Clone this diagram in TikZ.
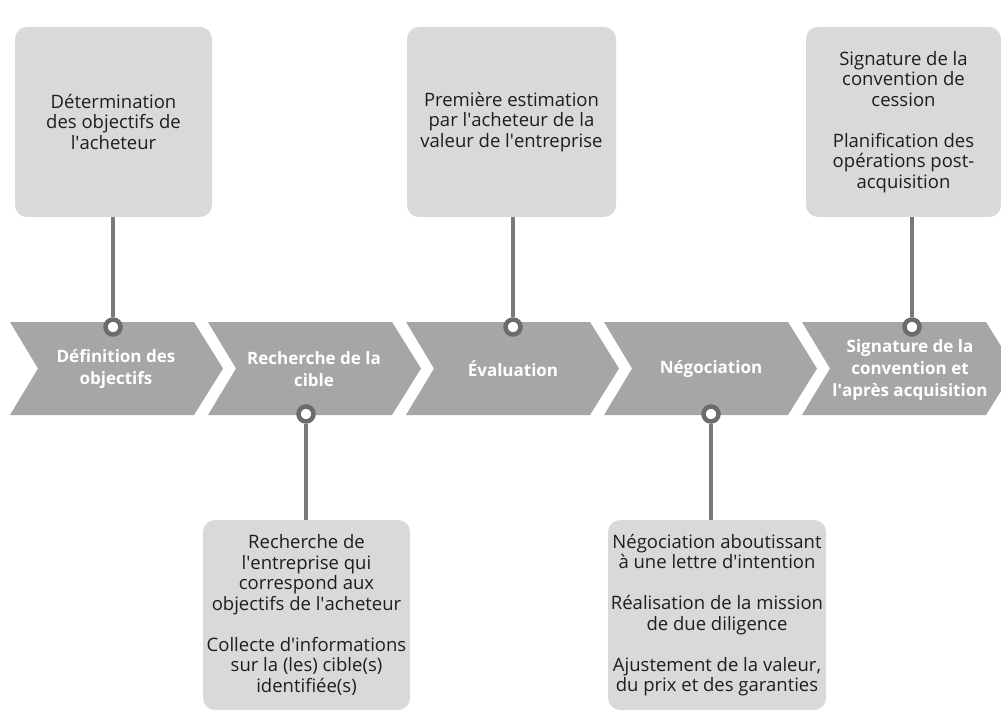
\documentclass[tikz,border=0pt]{standalone}
\usepackage{fontspec}
\setmainfont{Open Sans}
\usepackage{xcolor}
\definecolor{ChevGray}{HTML}{A6A6A6}
\definecolor{BoxGray}{HTML}{D9D9D9}
\definecolor{LinkGray}{HTML}{7A7A7A}
\definecolor{RingGray}{HTML}{6B6B6B}
\definecolor{TextDark}{HTML}{1E1E1E}
\usepackage{tikz}
\usetikzlibrary{calc}

\newcommand\Apos{\textquotesingle}

\tikzset{
	phaselabel/.style={text=white, align=center, font=\bfseries\fontsize{17}{22}\selectfont},
	infobox/.style={fill=BoxGray, rounded corners=12pt, align=center, inner sep=0pt,
		text=TextDark, font=\fontsize{18.5}{20.5}\selectfont},
	dot/.style={circle, draw=RingGray, fill=white, line width=4.5pt, minimum size=15pt, inner sep=0pt},
	link/.style={draw=LinkGray, line width=4pt}
}

\begin{document}
\begin{tikzpicture}[x=1pt,y=-1pt]
		\def\ChevTop{322}  % top edge of chevrons
		\def\ChevLen{184}  % straight part
		\def\ChevTip{29}   % depth of tip
		\def\ChevHalf{46.5}
		
		\useasboundingbox (0,0) rectangle (1001,711);
		\fill[white] (0,0) rectangle (1001,711);
		
		% chevrons
		\foreach \i in {0,...,4} {
			\pgfmathsetmacro\xa{10+198*\i}
			\fill[ChevGray] (\xa,\ChevTop) -- ++(\ChevLen,0) -- ++(\ChevTip,\ChevHalf) -- ++(-\ChevTip,\ChevHalf)
				-- ++(-\ChevLen,0) -- ++(\ChevTip-1,-\ChevHalf) -- cycle;
		}
		
		\node[phaselabel] (phase1) at (116,369) {Définition des\\objectifs};
		\node[phaselabel] (phase2) at (314,369) {Recherche de la\\cible};
		\node[phaselabel] (phase3) at (513,369) {Évaluation};
		\node[phaselabel] (phase4) at (711,369) {Négociation};
		\node[phaselabel] (phase5) at (910,370) {Signature de la\\convention et\\l\Apos après acquisition};
		
		% boxes above
		\node[infobox, minimum width=197pt, minimum height=190pt] (box1) at (113.5,122)
			{Détermination\\des objectifs de\\l\Apos acheteur};
		\node[infobox, minimum width=209pt, minimum height=190pt] (box3) at (511.5,122)
			{Première estimation\\par l\Apos acheteur de la\\valeur de l\Apos entreprise};
		\node[infobox, minimum width=195pt, minimum height=190pt] (box5) at (903.5,122)
			{Signature de la\\convention de\\cession\\[20.5pt]Planification des\\opérations post-\\acquisition};
		
		% boxes below
		\node[infobox, minimum width=207pt, minimum height=190pt] (box2) at (306.5,615)
			{Recherche de\\l\Apos entreprise qui\\correspond aux\\objectifs de l\Apos acheteur\\[20.5pt]Collecte d\Apos informations\\sur la (les) cible(s)\\identifiée(s)};
		\node[infobox, minimum width=218pt, minimum height=190pt] (box4) at (717,615)
			{Négociation aboutissant\\à une lettre d\Apos intention\\[20.5pt]Réalisation de la mission\\de due diligence\\[20.5pt]Ajustement de la valeur,\\du prix et des garanties};
		
		% dots on the chevrons
		\node[dot] (dot1) at (113,327) {};
		\node[dot] (dot2) at (306,414) {};
		\node[dot] (dot3) at (513,327) {};
		\node[dot] (dot4) at (711,414) {};
		\node[dot] (dot5) at (912,327) {};
		
		\draw[link] (box1.south -| dot1) -- (dot1);
		\draw[link] (box3.south -| dot3) -- (dot3);
		\draw[link] (box5.south -| dot5) -- (dot5);
		\draw[link] (dot2) -- (box2.north -| dot2);
		\draw[link] (dot4) -- (box4.north -| dot4);
		
	\end{tikzpicture}
\end{document}
